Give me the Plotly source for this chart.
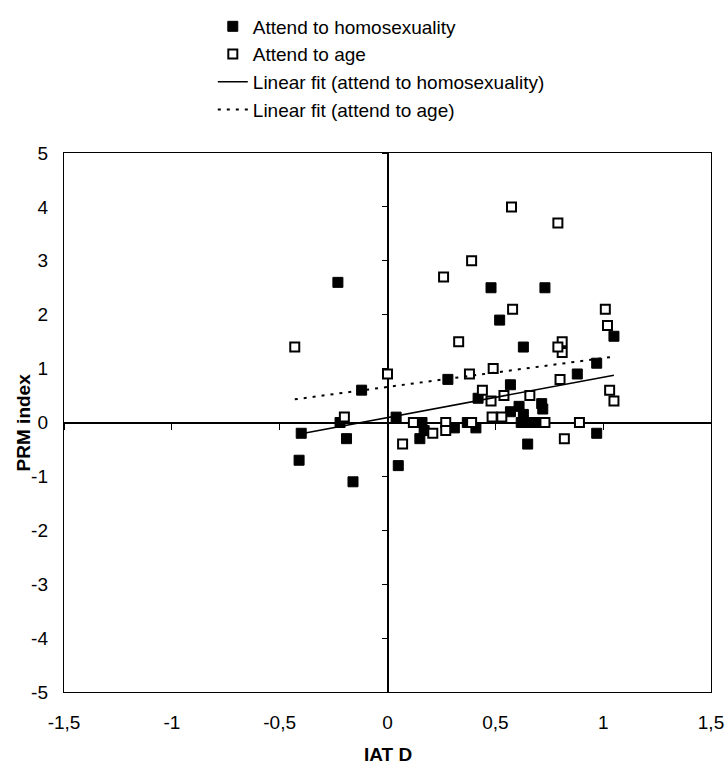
import plotly.graph_objects as go

# ---- data ----
homo_x = [-0.23, -0.12, -0.40, -0.22, -0.19, -0.41, -0.16, 0.04, 0.05, 0.16, 0.15, 0.17,
          0.31, 0.37, 0.41, 0.28, 0.42, 0.57, 0.57, 0.61, 0.63, 0.62, 0.64, 0.685, 0.715,
          0.72, 0.65, 0.97, 0.48, 0.73, 0.52, 0.63, 0.97, 0.88, 1.05]
homo_y = [2.6, 0.6, -0.2, 0.0, -0.3, -0.7, -1.1, 0.1, -0.8, 0.0, -0.3, -0.15,
          -0.1, 0.0, -0.1, 0.8, 0.45, 0.7, 0.2, 0.3, 0.15, 0.0, 0.0, 0.0, 0.35,
          0.25, -0.4, -0.2, 2.5, 2.5, 1.9, 1.4, 1.1, 0.9, 1.6]

age_x = [-0.43, -0.20, 0.0, 0.07, 0.12, 0.21, 0.27, 0.27, 0.39, 0.44, 0.48, 0.54,
         0.485, 0.53, 0.66, 0.73, 0.82, 0.89, 1.03, 1.05, 0.80, 0.39, 0.26, 0.58,
         0.33, 0.81, 0.81, 0.79, 0.79, 1.01, 1.02, 0.38, 0.49, 0.575]
age_y = [1.4, 0.1, 0.9, -0.4, 0.0, -0.2, 0.0, -0.15, 0.0, 0.6, 0.4, 0.5,
         0.1, 0.1, 0.5, 0.0, -0.3, 0.0, 0.6, 0.4, 0.8, 3.0, 2.7, 2.1,
         1.5, 1.5, 1.3, 1.4, 3.7, 2.1, 1.8, 0.9, 1.0, 4.0]

# linear fits (slope, intercept, x-extent)
homo_fit_slope, homo_fit_int, homo_fit_x = 0.75, 0.09, [-0.40, 1.05]
age_fit_slope, age_fit_int, age_fit_x = 0.535, 0.66, [-0.43, 1.05]

x_ticks = [-1.5, -1, -0.5, 0, 0.5, 1, 1.5]
x_labels = ["-1,5", "-1", "-0,5", "0", "0,5", "1", "1,5"]
y_ticks = [-5, -4, -3, -2, -1, 0, 1, 2, 3, 4, 5]
y_labels = ["-5", "-4", "-3", "-2", "-1", "0", "1", "2", "3", "4", "5"]

FONT = "Liberation Sans, Arial, sans-serif"
FS = 19

fig = go.Figure()
fig.add_trace(go.Scatter(x=homo_x, y=homo_y, mode="markers", name="Attend to homosexuality",
                         marker=dict(symbol="square", size=10, color="black",
                                     line=dict(color="black", width=1))))
fig.add_trace(go.Scatter(x=age_x, y=age_y, mode="markers", name="Attend to age",
                         marker=dict(symbol="square", size=9, color="white",
                                     line=dict(color="black", width=2))))
fig.add_trace(go.Scatter(x=homo_fit_x, y=[homo_fit_int + homo_fit_slope * v for v in homo_fit_x],
                         mode="lines", name="Linear fit (attend to homosexuality)",
                         line=dict(color="black", width=1.6)))
fig.add_trace(go.Scatter(x=age_fit_x, y=[age_fit_int + age_fit_slope * v for v in age_fit_x],
                         mode="lines", name="Linear fit (attend to age)",
                         line=dict(color="black", width=2, dash="3px,6px")))
# helper trace so the tick-only axes through the origin are drawn
fig.add_trace(go.Scatter(x=[], y=[], xaxis="x2", yaxis="y2", showlegend=False, hoverinfo="skip"))

fig.update_layout(
    width=727, height=764,
    margin=dict(l=64, r=16, t=153, b=72, autoexpand=False),
    paper_bgcolor="white", plot_bgcolor="white",
    font=dict(family=FONT, size=FS, color="black"),
    showlegend=True,
    legend=dict(x=0.23, y=1.27, xanchor="left", yanchor="top",
                font=dict(family=FONT, size=19, color="black"),
                bgcolor="rgba(0,0,0,0)", tracegroupgap=0),
    xaxis=dict(range=[-1.5, 1.5], tickvals=x_ticks, ticktext=x_labels, ticks="",
               showgrid=False, showline=True, mirror=True, linecolor="black", linewidth=1.4,
               zeroline=True, zerolinecolor="black", zerolinewidth=1.6,
               ticklabelstandoff=13, tickfont=dict(size=FS)),
    yaxis=dict(range=[-5, 5], tickvals=y_ticks, ticktext=y_labels, ticks="",
               showgrid=False, showline=True, mirror=True, linecolor="black", linewidth=1.4,
               zeroline=True, zerolinecolor="black", zerolinewidth=1.6,
               ticklabelstandoff=11, tickfont=dict(size=FS)),
    xaxis2=dict(range=[-1.5, 1.5], overlaying="x", anchor="free", position=0.5,
                tickvals=x_ticks, ticks="outside", ticklen=6, tickwidth=1.4, tickcolor="black",
                showticklabels=False, showline=False, showgrid=False, zeroline=False),
    yaxis2=dict(range=[-5, 5], overlaying="y", anchor="free", position=0.5,
                tickvals=y_ticks, ticks="outside", ticklen=6, tickwidth=1.4, tickcolor="black",
                showticklabels=False, showline=False, showgrid=False, zeroline=False),
    annotations=[
        dict(text="<b>PRM index</b>", x=-0.062, y=0.5, xref="paper", yref="paper",
             xanchor="center", yanchor="middle",
             textangle=-90, showarrow=False, font=dict(family=FONT, size=FS, color="black")),
        dict(text="<b>IAT D</b>", x=0.5, y=-0.116, xref="paper", yref="paper",
             xanchor="center", yanchor="middle",
             showarrow=False, font=dict(family=FONT, size=FS, color="black")),
    ],
)

fig.write_html("out.html", config={"displayModeBar": False},
               post_script="document.body.style.margin='0';document.body.style.overflow='hidden';")
